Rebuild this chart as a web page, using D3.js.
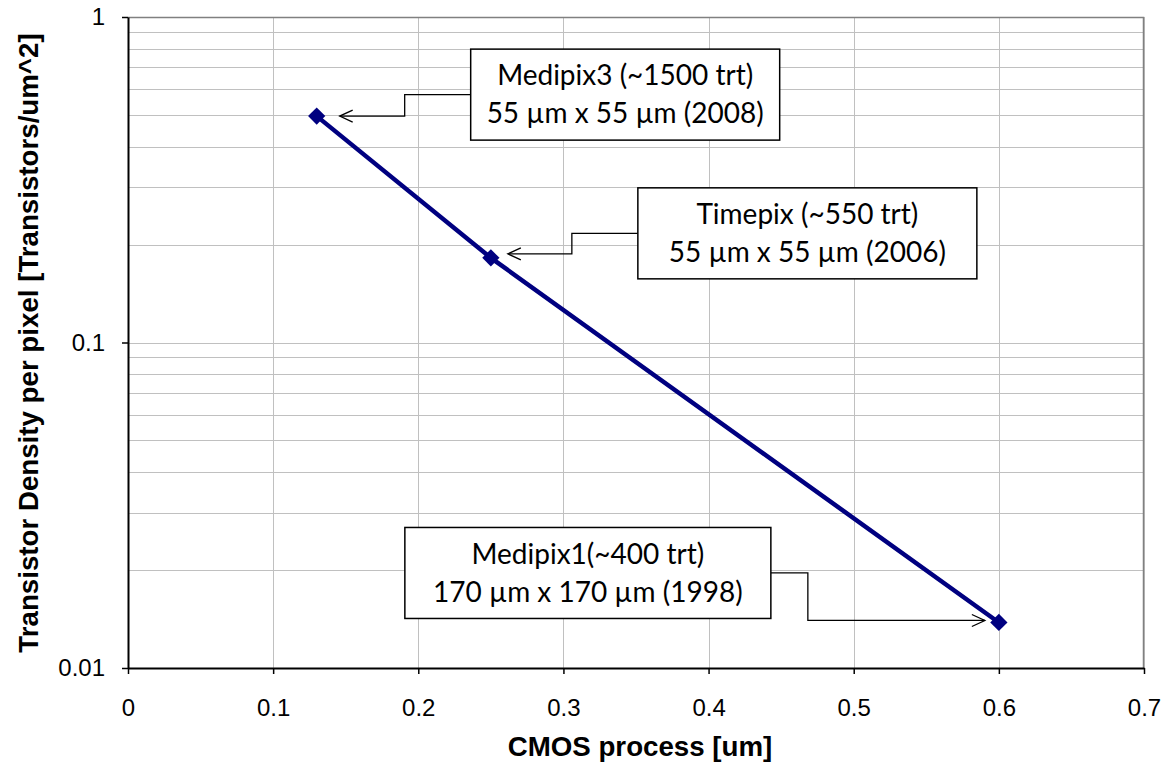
<!DOCTYPE html>
<html>
<head>
	<title>Transistor density</title>
	<meta charset='utf-8'>
	<style>
		body { margin: 0; background: #fff; }
		.grid line { stroke: #c0c0c0; stroke-width: 1px; }
		.tick text { font-family: 'Liberation Sans', Arial, sans-serif; font-size: 24px; fill: #000; }
		.axis path.domain { stroke: #000; stroke-width: 2px; }
		.axis .tick line { stroke: #000; stroke-width: 1.5px; }
		.axis-title { font-family: 'Liberation Sans', Arial, sans-serif; font-size: 27.7px; font-weight: bold; }
		.series { fill: none; stroke: #000080; stroke-width: 4.5px; }
		.marker { fill: #000080; }
		.note rect { fill: #fff; stroke: #000; stroke-width: 1.5px; }
		.note text { font-family: Lato, 'Open Sans', sans-serif; font-size: 28px; fill: #000; }
		.connector { fill: none; stroke: #000; stroke-width: 1.3px; }
	</style>
</head>
<body>
<div id="chart"></div>
<script src='https://d3js.org/d3.v7.min.js'></script>
<script>
	'use strict';

	// данные
	const processes = [0.13, 0.25, 0.6];              // CMOS process, um
	const densities = [0.496, 0.182, 0.0138];         // transistors / um^2
	const chipNames = ['Medipix3 (~1500 trt)', 'Timepix (~550 trt)', 'Medipix1(~400 trt)'];
	const chipPixels = ['55 µm x 55 µm (2008)', '55 µm x 55 µm (2006)', '170 µm x 170 µm (1998)'];
	const xTicks = [0, 0.1, 0.2, 0.3, 0.4, 0.5, 0.6, 0.7];
	const yTicks = [0.01, 0.1, 1];

	const margin = {top: 17, right: 23, bottom: 94, left: 128};
	const W = 1167, H = 762;
	const width = W - margin.left - margin.right;
	const height = H - margin.top - margin.bottom;

	const x = d3.scaleLinear().domain([0, 0.7]).range([0, width]);
	const y = d3.scaleLog().domain([0.01, 1]).range([height, 0]);

	const svg = d3.select('#chart').append('svg')
		.attr('width', W)
		.attr('height', H)
		.append('g')
		.attr('transform', 'translate(' + margin.left + ',' + margin.top + ')');

	// сетка
	const minor = [];
	[0.01, 0.1].forEach(function(dec) {
		for (let k = 2; k <= 10; k++) minor.push(dec * k);
	});
	const grid = svg.append('g').attr('class', 'grid');
	grid.selectAll('.h').data(minor).enter().append('line')
		.attr('x1', 0).attr('x2', width)
		.attr('y1', d => Math.round(y(d)) + 0.5).attr('y2', d => Math.round(y(d)) + 0.5);
	grid.selectAll('.v').data(xTicks.slice(1)).enter().append('line')
		.attr('y1', 0).attr('y2', height)
		.attr('x1', d => Math.round(x(d)) + 0.5).attr('x2', d => Math.round(x(d)) + 0.5);

	// рамка
	svg.append('path')
		.attr('d', 'M0,0.5H' + (width - 0.5) + 'V' + height)
		.attr('fill', 'none').attr('stroke', '#808080').attr('stroke-width', 1.5);

	// оси
	svg.append('g')
		.attr('class', 'axis axis__x')
		.attr('transform', 'translate(0,' + height + ')')
		.call(d3.axisBottom(x).tickValues(xTicks).tickFormat(d3.format('')).tickSize(6).tickSizeOuter(0).tickPadding(25));

	svg.append('g')
		.attr('class', 'axis axis__y')
		.call(d3.axisLeft(y).tickValues(yTicks).tickFormat(d => String(d)).tickSize(6).tickSizeOuter(0).tickPadding(17));

	svg.append('text')
		.attr('class', 'axis-title')
		.attr('x', 640 - margin.left)
		.attr('y', H - margin.top - 6)
		.attr('text-anchor', 'middle')
		.text('CMOS process [um]');

	svg.append('text')
		.attr('class', 'axis-title')
		.attr('transform', 'translate(' + (38 - margin.left) + ',' + (343 - margin.top) + ') rotate(-90)')
		.attr('text-anchor', 'middle')
		.text('Transistor Density per pixel [Transistors/um^2]');

	// линия и точки
	const points = processes.map((p, i) => ({x: p, y: densities[i], name: chipNames[i], size: chipPixels[i]}));

	svg.append('path')
		.datum(points)
		.attr('class', 'series')
		.attr('d', d3.line().x(d => x(d.x)).y(d => y(d.y)));

	svg.selectAll('.marker').data(points).enter().append('path')
		.attr('class', 'marker')
		.attr('d', d3.symbol().type(d3.symbolDiamond2).size(190))
		.attr('transform', d => 'translate(' + x(d.x) + ',' + y(d.y) + ')');

	// выноски: рамка относительно точки, излом, кончик стрелки
	const notes = [
		{box: [154, -67, 309, 91], side: 'left', elbow: 88, tip: [23, 0]},
		{box: [147, -70, 339, 91], side: 'left', elbow: 81, tip: [17, -4]},
		{box: [-594, -95, 366, 91], side: 'right', elbow: -191, tip: [-14, -2]}
	];

	notes.forEach(function(n, i) {
		const p = points[i];
		const px = x(p.x), py = y(p.y);
		const bx = px + n.box[0], by = py + n.box[1], bw = n.box[2], bh = n.box[3];
		const sx = n.side === 'left' ? bx : bx + bw;
		const sy = by + bh / 2;
		const ex = px + n.elbow;
		const tx = px + n.tip[0], ty = py + n.tip[1];

		svg.append('path')
			.attr('class', 'connector')
			.attr('d', 'M' + sx + ',' + sy + 'H' + ex + 'V' + ty + 'H' + tx);

		const dir = tx < ex ? 1 : -1;
		svg.append('path')
			.attr('class', 'connector')
			.attr('d', 'M' + (tx + dir * 13) + ',' + (ty - 6) + 'L' + tx + ',' + ty + 'L' + (tx + dir * 13) + ',' + (ty + 6));

		const g = svg.append('g').attr('class', 'note');
		g.append('rect').attr('x', bx).attr('y', by).attr('width', bw).attr('height', bh);
		g.append('text').attr('x', bx + bw / 2).attr('y', sy - 19).attr('dy', '0.35em')
			.attr('text-anchor', 'middle').text(p.name);
		g.append('text').attr('x', bx + bw / 2).attr('y', sy + 19).attr('dy', '0.35em')
			.attr('text-anchor', 'middle').text(p.size);
	});
</script>
</body>
</html>
